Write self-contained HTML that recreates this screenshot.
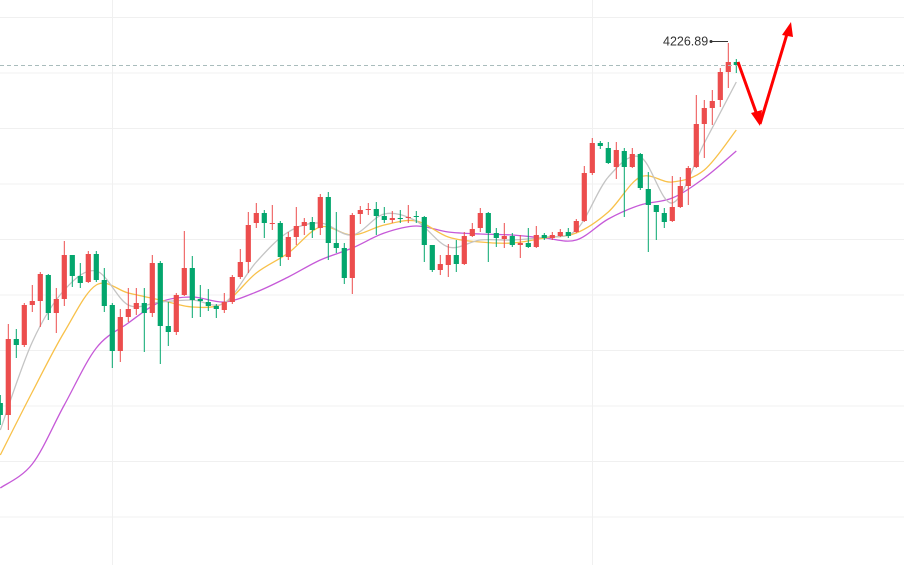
<!DOCTYPE html>
<html><head><meta charset="utf-8"><style>
html,body{margin:0;padding:0;background:#fff;}
svg{display:block;font-family:"Liberation Sans",sans-serif;}
</style></head><body>
<svg id="chart" width="904" height="565" viewBox="0 0 904 565">
<g id="grid"></g>
<g id="mas"></g>
<g id="candles"></g>
<line x1="0" x2="904" y1="65.5" y2="65.5" stroke="#a9bcbc" stroke-dasharray="4,3" stroke-width="1"/>
<text x="663" y="45.5" font-size="12.5" fill="#333">4226.89</text>
<line x1="711" x2="728" y1="41.5" y2="41.5" stroke="#333" stroke-width="1"/>
<circle cx="711" cy="41.5" r="1.5" fill="#333"/>
<g stroke="#f00" fill="#f00">
<line x1="738" y1="62" x2="757" y2="115" stroke-width="3"/>
<polygon points="760,126 751,113 762,110" stroke="none"/>
<line x1="760" y1="124" x2="787" y2="34" stroke-width="3"/>
<polygon points="791,22 782,35 793,37" stroke="none"/>
</g>
</svg>
<script>
const open=[4046.5,4040.5,4078.5,4075.5,4095.5,4097.5,4110.5,4091.5,4098.5,4120.5,4110,4107,4121,4108,4095.5,4072.5,4089.5,4093.5,4096.5,4091.5,4116.5,4085,4082,4100.5,4114,4098.5,4097,4095,4093,4097,4109.5,4117,4136.5,4141.5,4136,4136.5,4119.5,4129.5,4135,4137,4134,4149.5,4126.5,4124,4109,4141,4143,4143.5,4140,4138,4139,4139,4140,4139.5,4125.5,4113,4115.5,4120.5,4116,4130,4134,4141.5,4131.5,4128.5,4130,4125.5,4126.5,4124.5,4130.5,4129,4130,4132,4132,4137.5,4161.5,4176.5,4174,4164.5,4172.5,4164.5,4171,4153.5,4145.5,4141.5,4137.5,4144.5,4155,4164.5,4186,4194,4198,4212,4217];
const high=[4050.5,4086,4083.5,4096.5,4105.5,4112,4111,4104,4127.5,4120.5,4116.5,4122.5,4122.5,4114,4096.5,4093.5,4104,4104,4104,4120.5,4117.5,4097,4101.5,4132.5,4120,4105.5,4103.5,4096,4101.5,4110.5,4123.5,4142,4146.5,4143,4145.5,4137.5,4132,4144.5,4139,4139.5,4151,4152,4142,4126.5,4141.5,4145,4146.5,4147,4144.5,4142.5,4143,4145.5,4142.5,4140,4125.5,4120.5,4126,4128,4132,4136.5,4144,4142,4134,4136.5,4131.5,4130.5,4134,4135,4131.5,4132,4133.5,4134,4138.5,4165,4179,4177.5,4177,4177,4174,4174,4171.5,4162,4145.5,4144,4160,4159.5,4165,4200.5,4198,4203,4214,4226.5,4218.5];
const low=[4035.5,4033,4069,4074.5,4092,4084.5,4088,4081.5,4095,4104.5,4104,4106.5,4107,4092,4064,4067,4087,4090.5,4072,4089.5,4066,4075,4080.5,4100,4089,4089.5,4092.5,4089,4091.5,4096,4108.5,4111.5,4134,4129,4133,4115,4118,4125.5,4130.5,4129,4130.5,4118,4121.5,4106,4101,4136,4140.5,4130.5,4136.5,4136.5,4136.5,4136.5,4136.5,4117,4112,4110.5,4109.5,4112,4115.5,4129.5,4132,4117,4124.5,4124,4124.5,4119,4124,4124,4128,4128,4129.5,4129,4131.5,4137,4160.5,4173.5,4166,4158.5,4139.5,4164,4153,4122,4128,4134,4137,4144,4145.5,4164,4169,4185.5,4194.5,4204,4211.5];
const close=[4040.5,4078.5,4075.5,4095.5,4097.5,4111,4091.5,4098.5,4120.5,4110,4106.5,4121,4108,4095,4072.5,4089.5,4093.5,4096.5,4091.5,4116.5,4085,4082,4100.5,4114,4098,4097.5,4095,4093.5,4097,4109.5,4117,4135.5,4141.5,4136.5,4136.5,4119.5,4129.5,4135,4137,4133,4149.5,4126.5,4124,4109,4140.5,4143,4143.5,4140,4138,4139,4138.5,4139.5,4139.5,4125.5,4113,4116,4120.5,4116,4130,4133.5,4141.5,4131.5,4129,4130,4125.5,4126.5,4124.5,4130.5,4129,4130.5,4132,4130,4137.5,4161.5,4176.5,4175,4166.5,4173,4164.5,4171,4154,4145.5,4142,4137,4144.5,4155,4164,4186,4194,4197.5,4212,4217,4215.5];
const maStep=4;
const ma5=[4033,4077,4103,4112.5,4095.5,4097,4098,4096.5,4117,4132,4136.5,4130.5,4141,4137.5,4124.5,4128,4128,4129.5,4133,4159.5,4169.5,4146.5,4176.5,4207];
const ma10=[4020.5,4052,4082,4105.5,4101.5,4098,4094.5,4096.5,4111.5,4121.5,4134.5,4130.5,4135.5,4137.5,4129.5,4127,4126.5,4129,4131.5,4142,4159.5,4157,4163,4183];
const ma20=[4004,4016,4045.5,4074,4086.5,4097,4099.5,4097,4102,4109.5,4118,4124,4131.5,4135,4132,4131,4130.5,4129,4128,4138.5,4145.5,4149,4159,4172.5];

const NS='http://www.w3.org/2000/svg';
function xAt(i){return 0.3+8*i;}
function yAt(p){return (4248-p)*2;}
function mk(tag,attrs,parent){const e=document.createElementNS(NS,tag);for(const k in attrs)e.setAttribute(k,attrs[k]);parent.appendChild(e);return e;}
function smooth(P){
  let d='M'+P[0][0].toFixed(1)+','+P[0][1].toFixed(1);
  for(let k=0;k<P.length-1;k++){
    const p0=P[Math.max(0,k-1)],p1=P[k],p2=P[k+1],p3=P[Math.min(P.length-1,k+2)];
    const c1x=p1[0]+(p2[0]-p0[0])/6,c1y=p1[1]+(p2[1]-p0[1])/6;
    const c2x=p2[0]-(p3[0]-p1[0])/6,c2y=p2[1]-(p3[1]-p1[1])/6;
    d+=' C'+c1x.toFixed(1)+','+c1y.toFixed(1)+' '+c2x.toFixed(1)+','+c2y.toFixed(1)+' '+p2[0].toFixed(1)+','+p2[1].toFixed(1);
  }
  return d;
}

const grid=document.getElementById('grid');
[17.5,73,128.5,184,239.5,295,350.5,406,461.5,517].forEach(function(y){
  const l=mk('line',{x1:0,x2:904,y1:y,y2:y,stroke:'#f0f0f0','stroke-width':1},grid);
  
  
});
[112.5,592.5].forEach(function(x){
  const l=mk('line',{x1:x,x2:x,y1:0,y2:565,stroke:'#f0f0f0','stroke-width':1},grid);
  
  
});

const mas=document.getElementById('mas');
[[ma20,'#c65ad8','ma20-line'],[ma10,'#f8c14a','ma10-line'],[ma5,'#c4c4c4','ma5-line']].forEach(function(s){
  const P=s[0].map(function(v,k){return [xAt(k*maStep),yAt(v)];});
  const pl=mk('path',{d:smooth(P),fill:'none',stroke:s[1],'stroke-width':1.3,'stroke-linejoin':'round'},mas);
  
  
});

const cg=document.getElementById('candles');
for(let i=0;i<open.length;i++){
  const up=close[i]>=open[i];
  const col=up?'#ec4d4d':'#03a66d';
  const g=mk('g',{},cg);
  
  
  const x=xAt(i);
  mk('line',{x1:x,x2:x,y1:yAt(high[i]),y2:yAt(low[i]),stroke:col,'stroke-width':1},g);
  const top=yAt(Math.max(open[i],close[i])),bot=yAt(Math.min(open[i],close[i]));
  mk('rect',{x:x-2.6,y:top,width:5.2,height:Math.max(1,bot-top),fill:col},g);
}
</script>
</body></html>
